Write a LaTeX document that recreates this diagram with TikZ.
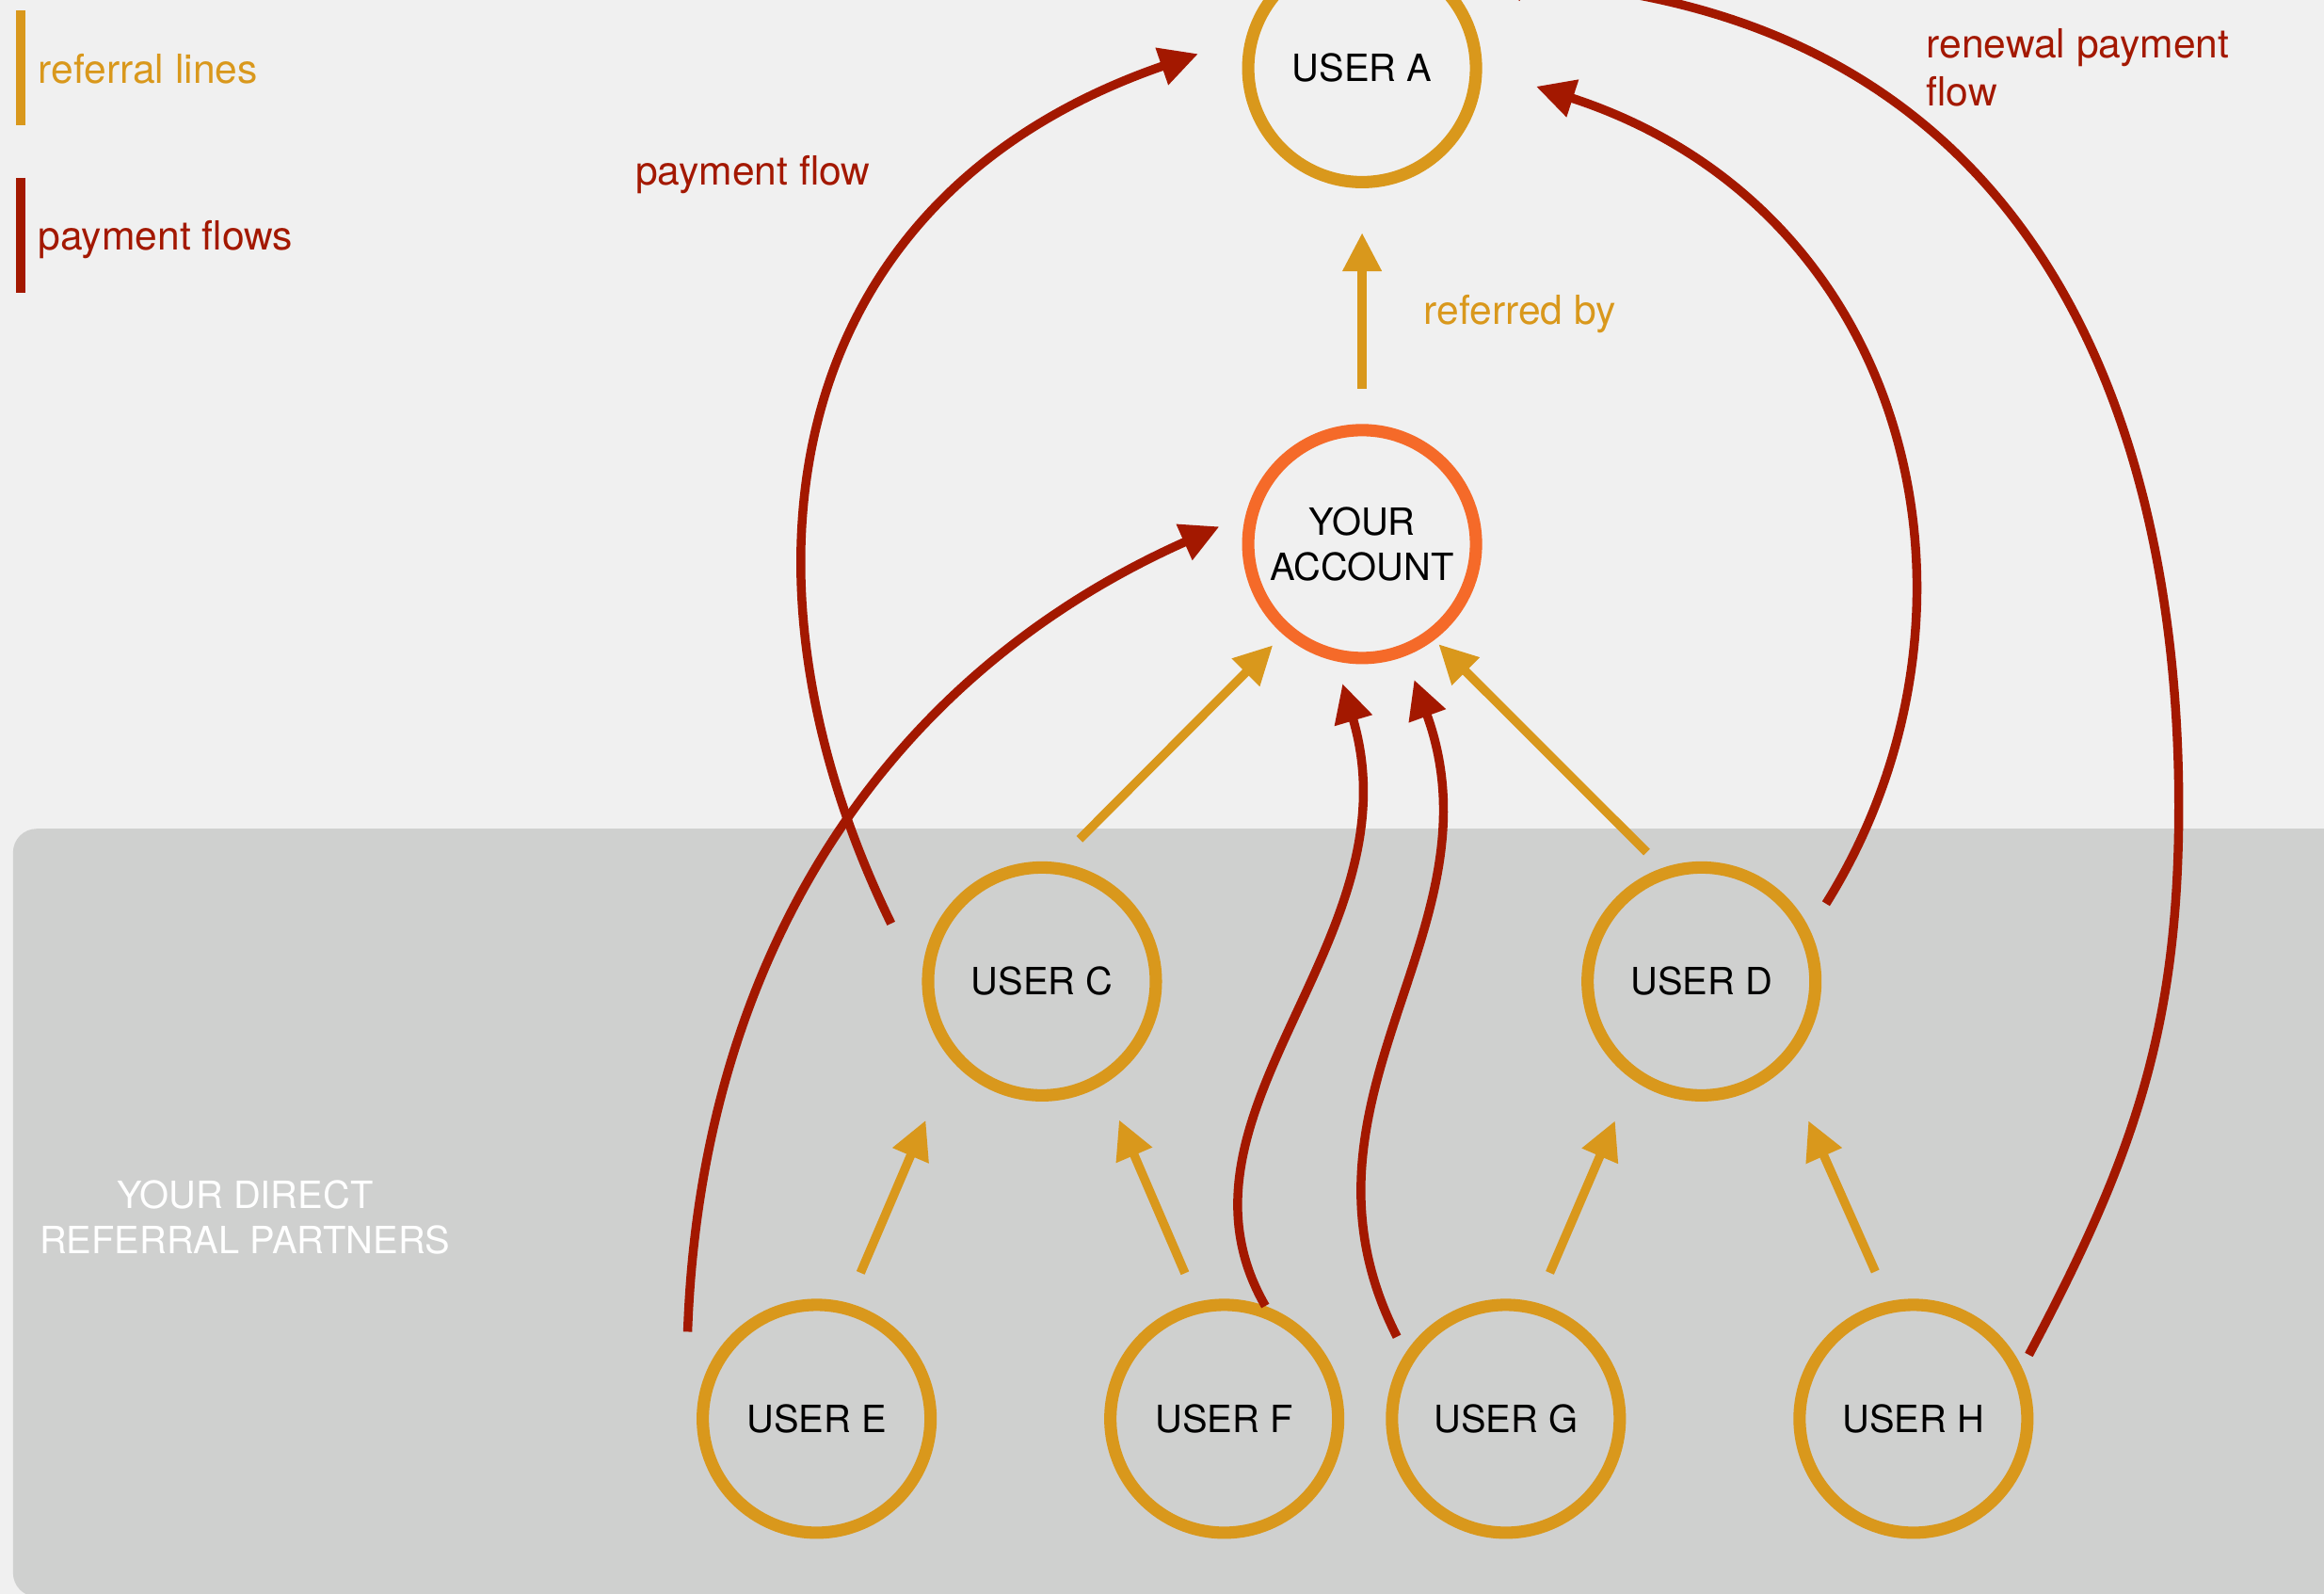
\documentclass[tikz,border=0pt]{standalone}
\usepackage{fontspec}
\setmainfont{TeX Gyre Heros}
\usepackage{tikz}
\usetikzlibrary{arrows.meta,calc}

\definecolor{bgcol}{HTML}{F0F0F0}
\definecolor{boxcol}{HTML}{CFD0CF}
\definecolor{refcol}{HTML}{D9981C}
\definecolor{paycol}{HTML}{A31800}
\definecolor{acccol}{HTML}{F56A29}

\tikzset{
  user/.style={circle, draw=refcol, line width=0.083cm, minimum size=1.537cm,
    inner sep=0pt, align=center, font=\fontsize{7.2}{8.7}\selectfont},
  refarrow/.style={refcol, line width=0.06cm, -{Triangle[length=0.26cm,width=0.25cm]}},
  payarrow/.style={paycol, line width=0.06cm, -{Triangle[length=0.26cm,width=0.25cm]}},
  note/.style={inner sep=0pt, font=\fontsize{7.7}{9.2}\selectfont}
}

\begin{document}
\begin{tikzpicture}
           \useasboundingbox (0,0) rectangle (15.68,-10.75);
           % Background
           \fill[bgcol] (0,0) rectangle (15.68,-10.75);
           \fill[boxcol, rounded corners=0.16cm] (0.088,-5.59) rectangle (16.2,-10.77);
           \node[inner sep=0pt, anchor=base, align=center, text=white,
             font=\fontsize{7.2}{8.7}\selectfont] at (1.653,-8.454) {YOUR DIRECT\\REFERRAL PARTNERS};

           % Legend
           \draw[refcol, line width=0.06cm] (0.14,-0.07) -- (0.14,-0.843);
           \node[note, text=refcol, anchor=base west] at (0.251,-0.561) {referral lines};
           \draw[paycol, line width=0.06cm] (0.14,-1.20) -- (0.14,-1.973);
           \node[note, text=paycol, anchor=base west] at (0.251,-1.687) {payment flows};

           % Users
           \node[user] (A) at (9.19,-0.46) {USER A};
           \node[user, draw=acccol] (Acc) at (9.19,-3.67) {YOUR\\ACCOUNT};
           \node[user] (C) at (7.03,-6.62) {USER C};
           \node[user] (D) at (11.48,-6.62) {USER D};
           \node[user] (E) at (5.51,-9.57) {USER E};
           \node[user] (F) at (8.26,-9.57) {USER F};
           \node[user] (G) at (10.16,-9.57) {USER G};
           \node[user] (H) at (12.91,-9.57) {USER H};

           % Referral lines
           \draw[refarrow, shorten <=0.24cm, shorten >=0.30cm] (Acc.90) -- (A.270);
           \draw[refarrow, shorten <=0.22cm, shorten >=0.10cm] (C.83) -- (Acc.229);
           \draw[refarrow, shorten <=0.15cm, shorten >=0.04cm] (D.109) -- (Acc.307);
           \draw[refarrow, shorten <=0.22cm, shorten >=0.44cm] (E.75) -- (C.221);
           \draw[refarrow, shorten <=0.21cm, shorten >=0.26cm] (F.103) -- (C.301);
           \draw[refarrow, shorten <=0.22cm, shorten >=0.30cm] (G.75) -- (D.235);
           \draw[refarrow, shorten <=0.22cm, shorten >=0.39cm] (H.102) -- (D.314);
           \node[note, text=refcol, anchor=base west] at (9.60,-2.187) {referred by};

           % Payment flows
           \draw[payarrow] ($(C)+(159:1.09)$) .. controls +(116:2.6) and +(199:3.0) .. ($(A)+(175:1.11)$);
           \draw[payarrow] ($(E)+(146:1.05)$) .. controls +(88:2.5) and +(204:2.5) .. ($(Acc)+(173:0.97)$);
           \draw[payarrow] (F.70) .. controls +(120:1.5) and +(286.5:1.8) .. ($(Acc)+(262:0.95)$);
           \draw[payarrow] ($(G)+(143:0.92)$) .. controls +(117:1.8) and +(290:1.8) .. ($(Acc)+(291:0.98)$);
           \draw[payarrow] ($(D)+(32:0.99)$) .. controls +(58:2.3) and +(342:2.7) .. ($(A)+(354:1.18)$);
           \draw[payarrow] ($(H)+(29:0.89)$) .. controls +(62:1.5) and +(-90:1.5) .. ($(H)+(1.79,4.13)$)
             .. controls +(90:2.2) and +(-3:4.0) .. ($(A)+(36.5:1.01)$);
           \node[note, text=paycol, anchor=base west] at (4.28,-1.245) {payment flow};
           \node[note, text=paycol, anchor=base west, align=left] at (12.99,-0.716) {renewal payment\\flow};
\end{tikzpicture}
\end{document}
